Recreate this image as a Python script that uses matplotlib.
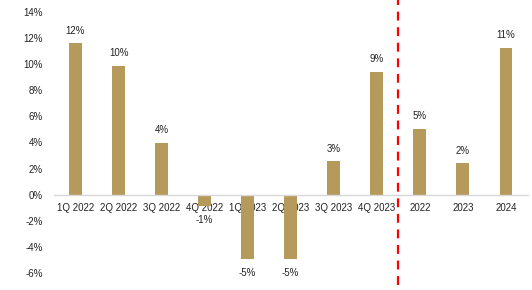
import matplotlib
matplotlib.use("Agg")
import matplotlib.pyplot as plt
from matplotlib.ticker import FuncFormatter

categories = ["1Q 2022", "2Q 2022", "3Q 2022", "4Q 2022", "1Q 2023", "2Q 2023",
              "3Q 2023", "4Q 2023", "2022", "2023", "2024"]
values = [11.6, 9.9, 4.0, -0.9, -4.9, -4.9, 2.55, 9.4, 5.05, 2.4, 11.25]
labels = ["12%", "10%", "4%", "-1%", "-5%", "-5%", "3%", "9%", "5%", "2%", "11%"]
yticks = [-6, -4, -2, 0, 2, 4, 6, 8, 10, 12, 14]

plt.rcParams['font.family'] = ['Liberation Sans', 'DejaVu Sans']

W, H = 532, 290
fig = plt.figure(figsize=(W / 100, H / 100), dpi=100)
left, right, top, bottom = 54, 527.5, 12, 273
ax = fig.add_axes([left / W, (H - bottom) / H, (right - left) / W, (bottom - top) / H])

x = list(range(len(categories)))
ax.bar(x, values, width=0.3, color="#B69A5B", zorder=2)

ax.set_xlim(-0.5, len(categories) - 0.5)
ax.set_ylim(-6, 14)
ax.set_yticks(yticks)
ax.yaxis.set_major_formatter(FuncFormatter(lambda v, p: f"{v:.0f}%"))
ax.tick_params(axis="y", length=0, labelsize=7, pad=8, colors="#222222")

for s in ["top", "right", "left"]:
    ax.spines[s].set_visible(False)
ax.spines["bottom"].set_position(("data", 0))
ax.spines["bottom"].set_color("#D9D9D9")
ax.spines["bottom"].set_linewidth(1.0)
ax.set_xticks(x)
ax.set_xticklabels(categories)
ax.tick_params(axis="x", length=0, labelsize=7, pad=6, colors="#222222")

for xi, v, lab in zip(x, values, labels):
    if v >= 0:
        ax.annotate(lab, (xi, v), xytext=(0, 5.5), textcoords="offset points",
                    ha="center", va="bottom", fontsize=7, color="#222222")
    else:
        ax.annotate(lab, (xi, v), xytext=(0, -6.5), textcoords="offset points",
                    ha="center", va="top", fontsize=7, color="#222222")

ax.plot([7.5, 7.5], [-6.9, 14.9], color="#FF0000", lw=1.6, ls=(0, (4, 3)),
        clip_on=False, zorder=3)

fig.savefig("out.png", dpi=100)
